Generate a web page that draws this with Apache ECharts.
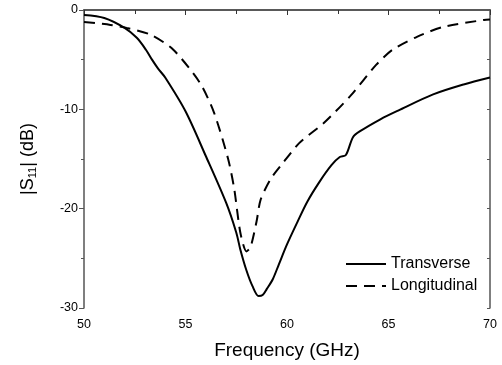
<!DOCTYPE html>
<html>
<head>
<meta charset="utf-8">
<script src="https://cdn.jsdelivr.net/npm/echarts@6/dist/echarts.min.js"></script>
<style>
  html, body { margin: 0; padding: 0; background: #fff; }
  #chart { width: 502px; height: 365px; }
</style>
</head>
<body>
<div id="chart"></div>
<script>
const transFreq = [50, 51, 52, 52.6, 53.05, 53.35, 53.65, 54, 55, 56, 57, 57.5, 57.7, 58, 58.3, 58.6, 58.8, 59, 59.3, 59.6, 60, 60.5, 61, 61.6, 62.2, 62.6, 62.9, 63.25, 63.6, 64.6, 65.5, 67.2, 68.7, 70]
const transDb = [-0.5, -0.8, -1.8, -2.8, -4.0, -5.0, -5.9, -6.8, -10.2, -14.7, -19.4, -22.4, -24.1, -26.2, -27.8, -28.8, -28.7, -28.1, -27.1, -25.6, -23.6, -21.4, -19.3, -17.3, -15.6, -14.8, -14.6, -12.8, -12.2, -11.0, -10.1, -8.5, -7.5, -6.8]
const longFreq = [50, 51.3, 52.1, 53.3, 54.4, 55.7, 56.4, 57.1, 57.4, 57.7, 58.0, 58.2, 58.5, 58.7, 59.2, 59.8, 60.6, 61.8, 63.1, 64.4, 65.2, 66.4, 67.7, 69.7, 70]
const longDb = [-1.2, -1.5, -1.8, -2.5, -4.0, -7.3, -10.3, -15.0, -18.0, -22.4, -24.3, -23.9, -21.3, -19.1, -17.0, -15.4, -13.4, -11.4, -8.7, -5.5, -4.0, -2.7, -1.7, -1.0, -0.95]
const xTicks = [50, 55, 60, 65, 70]
const yTicks = [-30, -20, -10, 0]

const font = 'Liberation Sans, Arial, sans-serif'
const axisColor = '#555'
const chart = echarts.init(document.getElementById('chart'))

chart.setOption({
  animation: false,
  backgroundColor: '#fff',
  grid: { left: 84, right: 12, top: 10, bottom: 56 },
  legend: {
    orient: 'vertical',
    left: 340,
    top: 251,
    itemWidth: 40,
    itemHeight: 16,
    itemGap: 6,
    itemStyle: { opacity: 0 },
    textStyle: { fontFamily: font, fontSize: 16, color: '#000' },
    data: ['Transverse', 'Longitudinal']
  },
  xAxis: [{
    type: 'value', min: 50, max: 70, interval: 5,
    name: 'Frequency (GHz)', nameLocation: 'middle', nameGap: 33,
    nameTextStyle: { fontFamily: font, fontSize: 19, color: '#000' },
    axisLine: { lineStyle: { color: '#333', width: 1.5 } },
    axisTick: { length: 5, lineStyle: { color: '#333' } },
    minorTick: { show: true, splitNumber: 2, length: 4, lineStyle: { color: '#333' } },
    axisLabel: { fontFamily: font, fontSize: 12.5, color: '#000', margin: 10,
      formatter: v => xTicks.includes(v) ? String(v) : '' },
    splitLine: { show: false }
  }, {
    type: 'value', min: 50, max: 70, position: 'top',
    axisLine: { onZero: false, lineStyle: { color: axisColor, width: 1.5 } },
    axisTick: { show: false }, axisLabel: { show: false }, splitLine: { show: false }
  }],
  yAxis: [{
    type: 'value', min: -30, max: 0, interval: 10,
    name: '|S{sub|11}| (dB)', nameLocation: 'middle', nameGap: 46,
    nameTextStyle: { fontFamily: font, fontSize: 18, color: '#000',
      rich: { sub: { fontFamily: font, fontSize: 11, color: '#000', verticalAlign: 'bottom', padding: [9, 0, 0, 0] } } },
    axisLine: { show: true, lineStyle: { color: axisColor, width: 1.5 } },
    axisTick: { length: 5, lineStyle: { color: axisColor } },
    minorTick: { show: true, splitNumber: 2, length: 3, lineStyle: { color: axisColor } },
    axisLabel: { fontFamily: font, fontSize: 12.5, color: '#000', margin: 6,
      formatter: v => yTicks.includes(v) ? String(v) : '' },
    splitLine: { show: false }
  }, {
    type: 'value', min: -30, max: 0, interval: 10, position: 'right',
    axisLine: { show: true, onZero: false, lineStyle: { color: axisColor, width: 1.5 } },
    axisTick: { inside: true, length: 3, lineStyle: { color: axisColor } },
    minorTick: { show: true, splitNumber: 2, length: 3, lineStyle: { color: axisColor } },
    axisLabel: { show: false }, splitLine: { show: false }
  }],
  series: [{
    name: 'Transverse', type: 'line', smooth: 0.3, symbol: 'none',
    lineStyle: { color: '#000', width: 2 }, itemStyle: { color: '#000' },
    data: transFreq.map((f, i) => [f, transDb[i]])
  }, {
    name: 'Longitudinal', type: 'line', smooth: 0.25, symbol: 'none',
    lineStyle: { color: '#000', width: 2, type: [11, 7] }, itemStyle: { color: '#000' },
    data: longFreq.map((f, i) => [f, longDb[i]])
  }]
})
</script>
</body>
</html>
